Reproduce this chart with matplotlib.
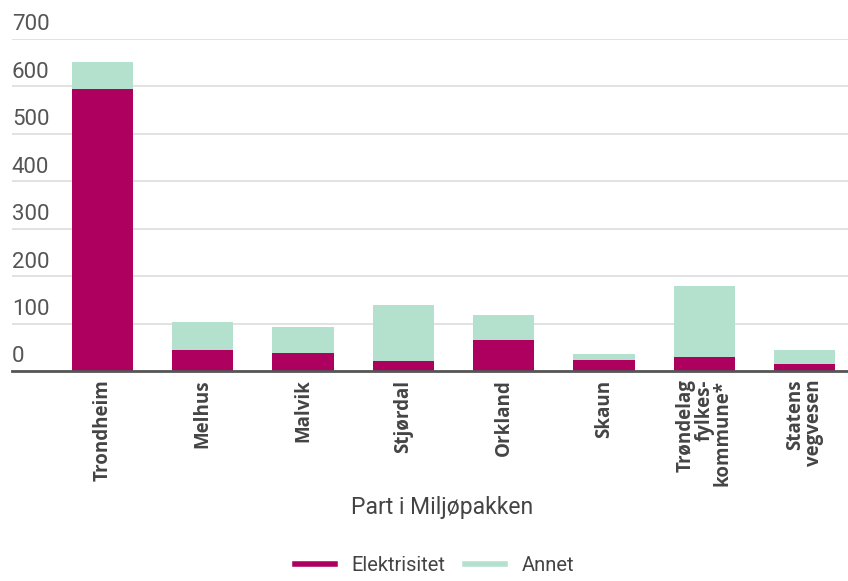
import matplotlib.pyplot as plt
from matplotlib.lines import Line2D
import matplotlib.transforms as mtransforms

# Data
parter = ['Trondheim', 'Melhus', 'Malvik', 'Stjørdal', 'Orkland', 'Skaun',
          'Trøndelag\nfylkes-\nkommune*', 'Statens\nvegvesen']
elektrisitet = [595, 44, 39, 21, 65, 24, 30, 15]
annet = [57, 60, 54, 118, 54, 12, 149, 29]
y_ticks = [0, 100, 200, 300, 400, 500, 600, 700]

farge_el = '#AD005F'
farge_annet = '#B3E1CD'

plt.rcParams['font.family'] = ['Roboto', 'DejaVu Sans']

fig = plt.figure(figsize=(8.48, 5.81), dpi=100)
ax = fig.add_axes([0.014, 0.361, 0.986, 0.572])

x = range(len(parter))
ax.bar(x, elektrisitet, width=0.61, color=farge_el, zorder=3)
ax.bar(x, annet, width=0.61, bottom=elektrisitet, color=farge_annet, zorder=3)

ax.set_xlim(-0.9, 7.43)
ax.set_ylim(0, 700)

# gridlines and y labels sitting above them
ax.set_yticks(y_ticks)
ax.set_yticklabels([])
ax.tick_params(axis='y', length=0)
ax.grid(axis='y', color='#e2e2e2', linewidth=1.4, zorder=0)
trans = mtransforms.blended_transform_factory(ax.transAxes, ax.transData)
for v in y_ticks:
    ax.text(0.0, v + 8, str(v), transform=trans, ha='left', va='bottom',
            fontsize=16, color='#555555')

ax.set_xticks(list(x))
ax.set_xticklabels(parter, rotation=90, ha='center', va='top',
                   multialignment='right', fontsize=13.5, fontweight='bold',
                   family=['Open Sans', 'DejaVu Sans'],
                   color='#444444', linespacing=0.9)
ax.tick_params(axis='x', length=0, pad=6)

for s in ['top', 'right', 'left']:
    ax.spines[s].set_visible(False)
ax.spines['bottom'].set_color('#555555')
ax.spines['bottom'].set_linewidth(2)
ax.spines['bottom'].set_zorder(4)

fig.text(0.521, 0.127, 'Part i Miljøpakken', ha='center', va='center',
         fontsize=16.5, color='#444444')

handles = [Line2D([0], [0], color=farge_el, lw=4),
           Line2D([0], [0], color=farge_annet, lw=4)]
fig.legend(handles, ['Elektrisitet', 'Annet'], loc='center',
           bbox_to_anchor=(0.512, 0.026), ncol=2, frameon=False,
           fontsize=14.5, handlelength=2.0, handletextpad=0.8,
           columnspacing=1.0, labelcolor='#444444',
           borderpad=0.2)

fig.savefig('out.png', dpi=100)
